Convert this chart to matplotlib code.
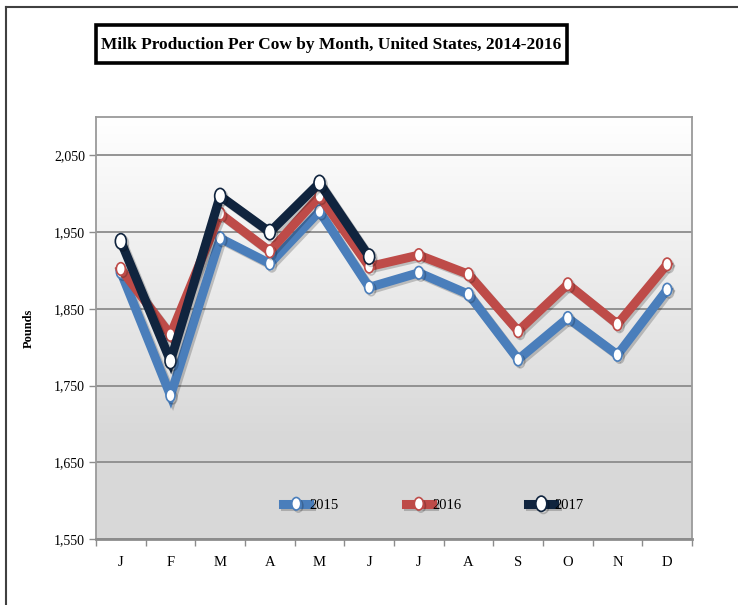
import numpy as np
import matplotlib
matplotlib.use("Agg")
import matplotlib.pyplot as plt
from matplotlib.path import Path
from matplotlib.transforms import Affine2D
from matplotlib.patches import Rectangle
from matplotlib.lines import Line2D
import matplotlib.patheffects as pe

months = ["J", "F", "M", "A", "M", "J", "J", "A", "S", "O", "N", "D"]
y2015 = [1898, 1737, 1942, 1909, 1977, 1878, 1897, 1869, 1784, 1838, 1790, 1875]
y2016 = [1902, 1816, 1974, 1925, 1997, 1905, 1920, 1895, 1821, 1882, 1830, 1908]
y2017 = [1938, 1782, 1997, 1950, 2014, 1918]
series_names = ["2015", "2016", "2017"]
yticks = [1550, 1650, 1750, 1850, 1950, 2050]
title = "Milk Production Per Cow by Month, United States, 2014-2016"

colors = ["#4a7ebb", "#be4b48", "#10243e"]
serif = ["Liberation Serif", "DejaVu Serif"]

W, H = 738, 605
fig = plt.figure(figsize=(W / 100, H / 100), dpi=100)
fig.patch.set_facecolor("white")

L, R, T, B = 96, 692, 117, 539
ax = fig.add_axes([L / W, 1 - B / H, (R - L) / W, (B - T) / H])

# gradient background
grad = np.linspace(0, 1, 256).reshape(-1, 1)
top_c = np.array([1.0, 1.0, 1.0])
bot_c = np.array([0.85, 0.85, 0.85])
t = np.clip(grad / 0.75, 0, 1)
img = top_c * (1 - t)[..., None] + bot_c * t[..., None]
img = img.reshape(256, 1, 3)
ax.imshow(img, extent=[0, 1, 0, 1], transform=ax.transAxes, aspect="auto",
          zorder=0, origin="upper")

x = np.arange(len(months))
ax.set_xlim(-0.5, len(months) - 0.5)
ax.set_ylim(1550, 2100)

ellipse = Path.unit_circle().transformed(Affine2D().scale(0.72, 1.0))

data = [y2015, y2016, y2017]
msizes = [9, 9, 11]
for i, (name, ys) in enumerate(zip(series_names, data)):
    xs = x[:len(ys)]
    ax.plot(xs, ys, color=colors[i], lw=6.5, solid_joinstyle="miter",
            marker=ellipse, markersize=msizes[i], markerfacecolor="white",
            markeredgecolor=colors[i], markeredgewidth=1.2, zorder=3 + i,
            label=name,
            path_effects=[pe.SimpleLineShadow(offset=(1.5, -1.5), alpha=0.2),
                          pe.Normal()])

# grid
ax.set_yticks(yticks)
ax.set_yticklabels([f"{v:,}" for v in yticks], fontfamily=serif, fontsize=10)
for v in yticks:
    ax.axhline(v, color="#8c8c8c", lw=1.3, zorder=1)

ax.set_xticks(x)
ax.set_xticklabels(months, fontfamily=serif, fontsize=10.5)
ax.set_xticks(np.arange(-0.5, len(months)), minor=True)
ax.tick_params(axis="x", which="major", length=0, pad=12)
ax.tick_params(axis="x", which="minor", length=5, color="#8c8c8c", width=1)
ax.tick_params(axis="y", length=5, color="#8c8c8c", width=1, pad=3)

for s in ax.spines.values():
    s.set_color("#9a9a9a")
    s.set_linewidth(1.3)
ax.spines["bottom"].set_color("#8c8c8c")
ax.spines["bottom"].set_linewidth(2)

ax.set_ylabel("Pounds", fontfamily=serif, fontsize=9, fontweight="bold")
ax.yaxis.set_label_coords(-0.103, 0.5)

leg = ax.legend(loc="center", bbox_to_anchor=(0.566, 0.08), ncol=3,
                frameon=False, prop={"family": serif, "size": 10.5},
                handlelength=1.8, handletextpad=0.0, columnspacing=4.6,
                borderaxespad=0)

# title box
bx0, by0, bx1, by1 = 96, 25, 567, 63
fig.patches.append(Rectangle((bx0 / W, 1 - by1 / H), (bx1 - bx0) / W,
                             (by1 - by0) / H, transform=fig.transFigure,
                             facecolor="white", edgecolor="black", lw=2.6))
fig.text((bx0 + bx1) / 2 / W, 1 - 45 / H, title, ha="center", va="center",
         fontfamily=serif, fontweight="bold", fontsize=12.5)

# outer frame lines
fig.add_artist(Line2D([6 / W, 1.0], [1 - 7 / H, 1 - 7 / H],
                      transform=fig.transFigure, color="#404040", lw=1.5))
fig.add_artist(Line2D([6 / W, 6 / W], [1 - 7 / H, 0.0],
                      transform=fig.transFigure, color="#404040", lw=1.5))

fig.savefig("out.png", dpi=100)
